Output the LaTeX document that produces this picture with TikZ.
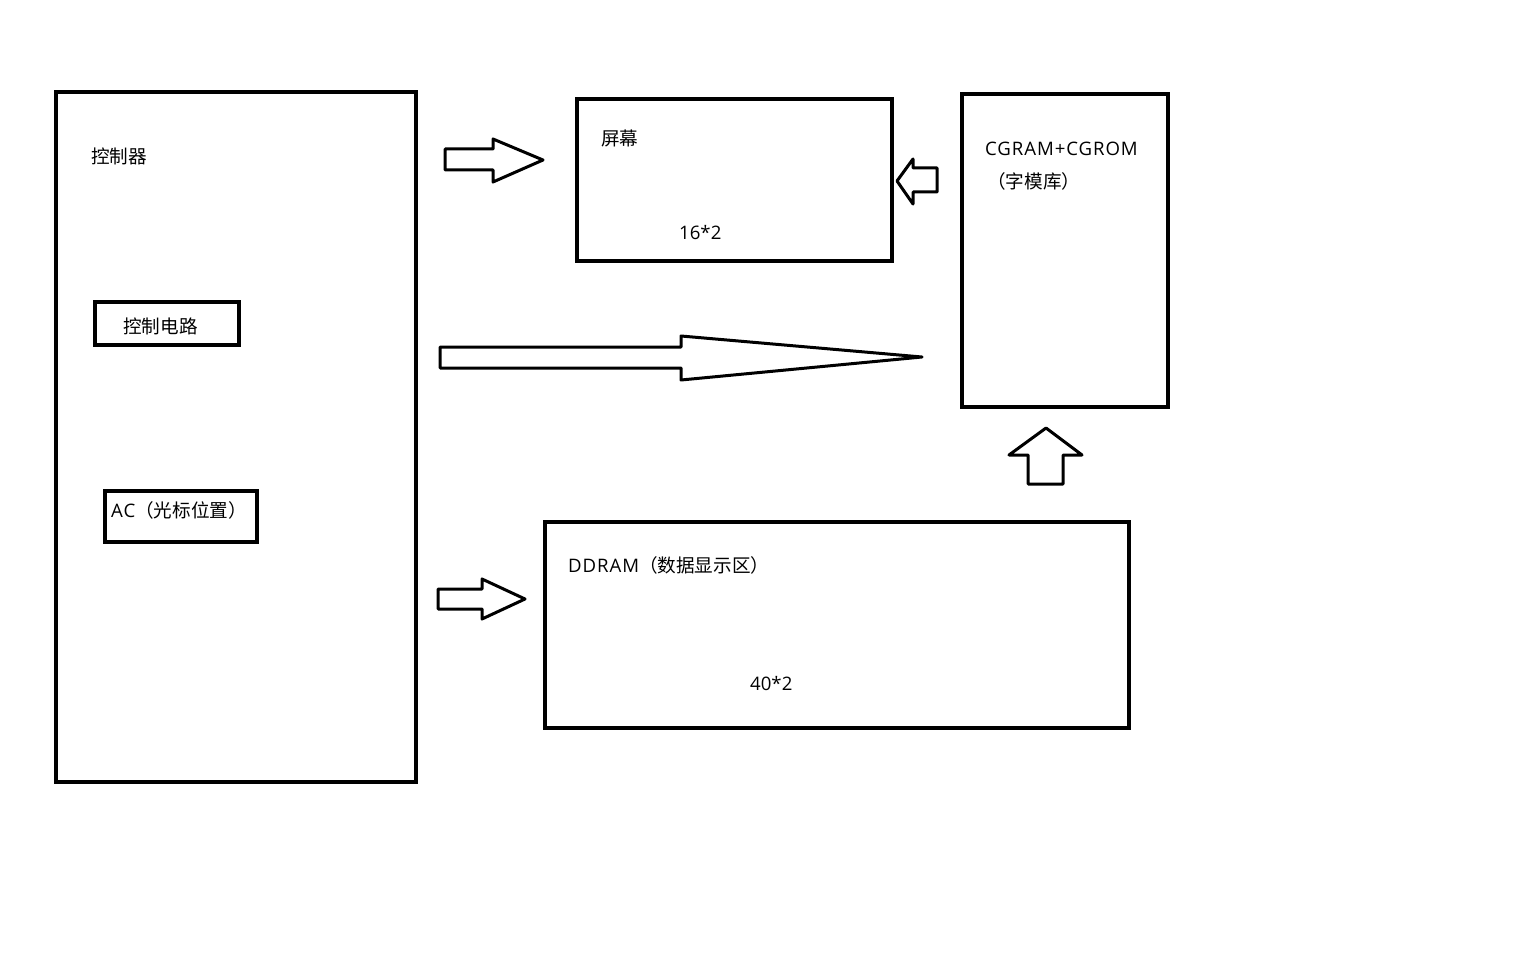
\documentclass[tikz,border=0pt]{standalone}
\usepackage{fontspec}
\setmainfont{Open Sans}
\newfontfamily\cjk{Noto Sans CJK SC}
\newfontfamily\capsfont[LetterSpace=5]{Open Sans}
\begin{document}
\begin{tikzpicture}[x=1pt,y=-1pt,
  box/.style={draw=black,line width=3.5pt},
  blockarrow/.style={draw=black,line width=3pt,line join=round,fill=white},
  lbl/.style={inner sep=0pt,anchor=west,font=\fontsize{18.6}{20}\selectfont}]
\useasboundingbox (0,0) rectangle (1536,960);
% boxes
\draw[box] (56,92) rectangle (416,782);
\draw[box] (95,302) rectangle (239,345);
\draw[box] (105,491) rectangle (257,542);
\draw[box] (577,99) rectangle (892,261);
\draw[box] (962,94) rectangle (1168,407);
\draw[box] (545,522) rectangle (1129,728);
% labels
\node[lbl] (ctrl) at (91,156) {\cjk 控制器};
\node[lbl] (ckt) at (123,326) {\cjk 控制电路};
\node[lbl] (ac) at (111,510) {{\capsfont AC}{\cjk （光标位置）}};
\node[lbl] (scr) at (601,138) {\cjk 屏幕};
\node[lbl] (s162) at (679,233) {16*2};
\node[lbl] (cg) at (985,149) {\capsfont CGRAM+CGROM};
\node[lbl] (zmk) at (987,181) {\cjk （字模库）};
\node[lbl] (dd) at (568,565) {{\capsfont DDRAM}{\cjk （数据显示区）}};
\node[lbl] (s402) at (750,684) {40*2};
% block arrows
\draw[blockarrow] (445,149) -- (493,149) -- (493,139) -- (543,160) -- (493,182) -- (493,170) -- (445,170) -- cycle;
\draw[blockarrow] (937,168) -- (913,168) -- (913,159) -- (897,181) -- (913,204) -- (913,192) -- (937,192) -- cycle;
\draw[blockarrow] (440,347) -- (681,347) -- (681,336) -- (922,357) -- (681,380) -- (681,368) -- (440,368) -- cycle;
\draw[blockarrow] (1028,484) -- (1028,455) -- (1009,455) -- (1046,428) -- (1082,455) -- (1063,455) -- (1063,484) -- cycle;
\draw[blockarrow] (438,589) -- (482,589) -- (482,579) -- (525,599) -- (482,619) -- (482,609) -- (438,609) -- cycle;
\end{tikzpicture}
\end{document}
